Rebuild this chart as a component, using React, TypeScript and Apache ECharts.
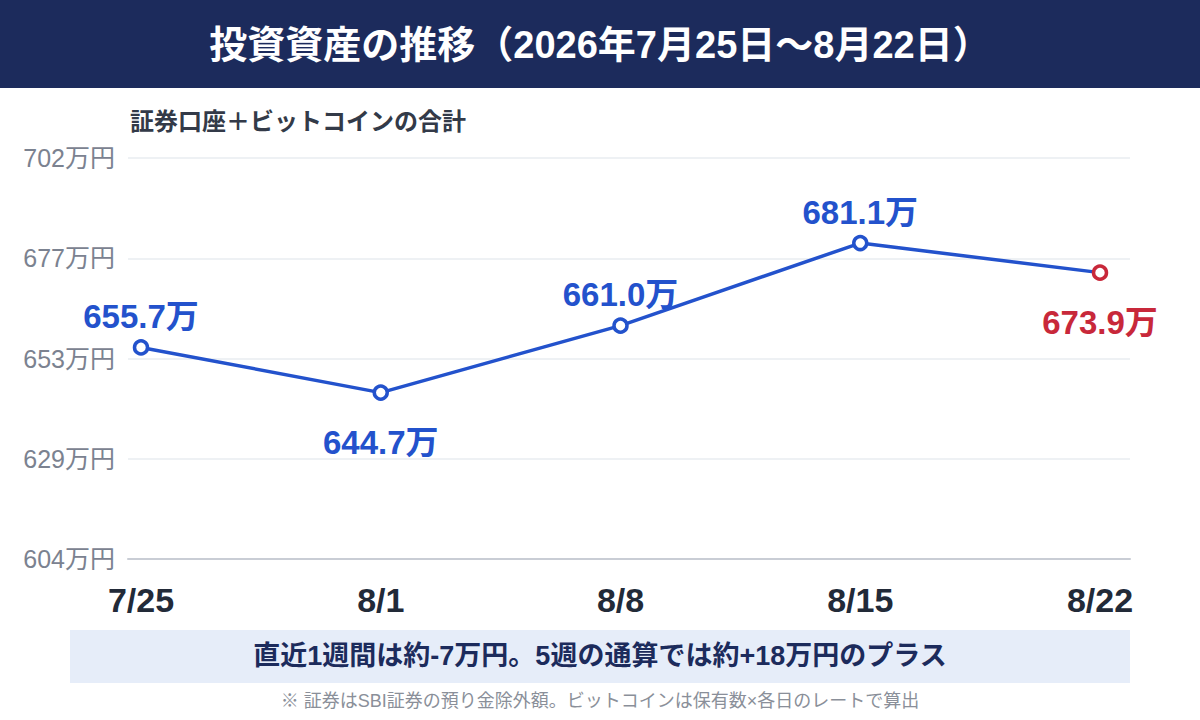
import { useEffect, useRef } from 'react';
import * as echarts from 'echarts';
import type { EChartsOption } from 'echarts';

const dates = ['7/25', '8/1', '8/8', '8/15', '8/22'];
const totals = [655.7, 644.7, 661.0, 681.1, 673.9];
// label placement for each point: above or below
const labelSides = ['top', 'bottom', 'top', 'top', 'bottom'];

const yMin = 604.2;
const yMax = 701.8;
const yStep = 24.4;

const titleText = '投資資産の推移（2026年7月25日〜8月22日）';
const subTitleText = '証券口座＋ビットコインの合計';
const summaryText = '直近1週間は約-7万円。5週の通算では約+18万円のプラス';
const noteText = '※ 証券はSBI証券の預り金除外額。ビットコインは保有数×各日のレートで算出';

const FONT = '"Liberation Sans", "Noto Sans CJK JP", sans-serif';
const BLUE = '#2352cc';
const RED = '#c8283a';
const NAVY = '#1c2b5c';

const App = () => {
  const chartRef = useRef<HTMLDivElement>(null);

  useEffect(() => {
    if (!chartRef.current) return;
    document.body.style.margin = '0';

    const chart = echarts.init(chartRef.current, null as any, { renderer: 'svg' });
    const last = totals.length - 1;

    const option: EChartsOption = {
      animation: false,
      backgroundColor: '#ffffff',
      textStyle: { fontFamily: FONT },
      grid: [
        { left: 128, right: 70, top: 158, bottom: 161 },
        { left: 141, right: 100, top: 158, bottom: 161 },
      ],
      xAxis: [
        {
          gridIndex: 0,
          type: 'value',
          min: 0,
          max: 1,
          axisLine: { show: true, onZero: false, lineStyle: { color: '#c9cdd5', width: 2 } },
          axisTick: { show: false },
          axisLabel: { show: false },
          splitLine: { show: false },
        },
        {
          gridIndex: 1,
          type: 'category',
          data: dates,
          boundaryGap: false,
          axisLine: { show: false },
          axisTick: { show: false },
          axisLabel: {
            margin: 24,
            fontSize: 34,
            fontWeight: 'bold',
            color: '#222a38',
            fontFamily: FONT,
          },
        },
      ],
      yAxis: [
        {
          gridIndex: 0,
          type: 'value',
          min: yMin,
          max: yMax,
          interval: yStep,
          axisLine: { show: false },
          axisTick: { show: false },
          axisLabel: {
            margin: 13,
            fontSize: 25,
            color: '#7b8290',
            fontFamily: FONT,
            formatter: (v: number) => `${Math.round(v)}万円`,
          },
          splitLine: { lineStyle: { color: '#e8ecf1', width: 1.5 } },
        },
        {
          gridIndex: 1,
          type: 'value',
          min: yMin,
          max: yMax,
          show: false,
        },
      ],
      series: [
        {
          type: 'line',
          xAxisIndex: 1,
          yAxisIndex: 1,
          data: totals.map((v, i) => ({
            value: v,
            itemStyle: i === last ? { color: '#ffffff', borderColor: RED } : undefined,
            label: {
              position: labelSides[i] as any,
              distance: labelSides[i] === 'top' ? 6 : 25,
              color: i === last ? RED : BLUE,
            },
          })),
          symbol: 'circle',
          symbolSize: 13,
          lineStyle: { color: BLUE, width: 3.5 },
          itemStyle: { color: '#ffffff', borderColor: BLUE, borderWidth: 3.5 },
          label: {
            show: true,
            fontSize: 33,
            fontWeight: 'bold',
            fontFamily: FONT,
            formatter: (p: any) => `${p.value.toFixed(1)}万`,
          },
          z: 5,
        },
      ],
      graphic: [
        {
          type: 'rect',
          left: 0,
          top: 0,
          shape: { width: 1200, height: 88 },
          style: { fill: NAVY },
          z: 0,
        },
        {
          type: 'text',
          x: 600,
          y: 45,
          style: {
            text: titleText,
            fill: '#ffffff',
            fontSize: 38,
            fontWeight: 'bold',
            fontFamily: FONT,
            textAlign: 'center',
            textVerticalAlign: 'middle',
          } as any,
        },
        {
          type: 'text',
          x: 130,
          y: 121,
          style: {
            text: subTitleText,
            fill: '#333a48',
            fontSize: 24,
            fontWeight: 'bold',
            fontFamily: FONT,
            textAlign: 'left',
            textVerticalAlign: 'middle',
          } as any,
        },
        {
          type: 'rect',
          left: 70,
          top: 630,
          shape: { width: 1060, height: 53 },
          style: { fill: '#e6edf9' },
          z: 0,
        },
        {
          type: 'text',
          x: 600,
          y: 656,
          style: {
            text: summaryText,
            fill: NAVY,
            fontSize: 27,
            fontWeight: 'bold',
            fontFamily: FONT,
            textAlign: 'center',
            textVerticalAlign: 'middle',
          } as any,
        },
        {
          type: 'text',
          x: 600,
          y: 701,
          style: {
            text: noteText,
            fill: '#8a8f99',
            fontSize: 18,
            fontFamily: FONT,
            textAlign: 'center',
            textVerticalAlign: 'middle',
          } as any,
        },
      ],
    };

    chart.setOption(option);

    return () => {
      chart.dispose();
    };
  }, []);

  return <div ref={chartRef} style={{ width: 1200, height: 720 }} />;
};

export default App;
